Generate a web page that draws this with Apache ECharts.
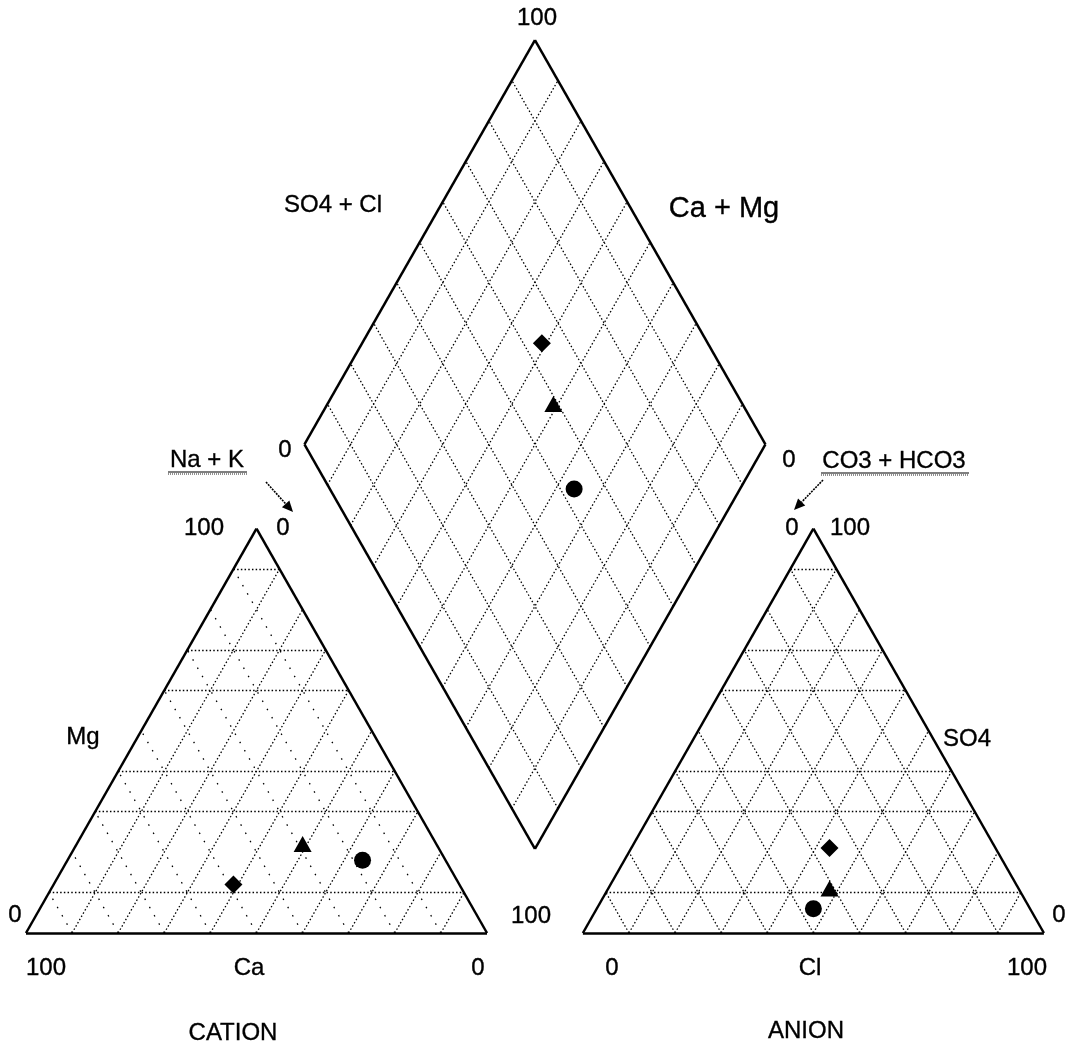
<!DOCTYPE html>
<html>
<head>
<meta charset="utf-8">
<script src="https://cdn.jsdelivr.net/npm/echarts@6/dist/echarts.min.js"></script>
<style>
  html, body { margin: 0; padding: 0; background: #ffffff; }
  #chart { width: 1066px; height: 1047px; }
</style>
</head>
<body>
<div id="chart"></div>
<script>
// Piper diagram: three water samples.
const sampleSymbols = ['diamond', 'triangle', 'circle'];

// Cation composition, % of meq
const caPct  = [49, 29, 18];
const mgPct  = [12, 22, 18];
const naKPct = [39, 49, 64];

// Anion composition, % of meq
const hco3Pct = [36, 41, 47];
const so4Pct  = [21, 11, 6];
const clPct   = [43, 48, 47];

// Grid steps (percent)
const gridSteps = [10, 20, 30, 40, 50, 60, 70, 80, 90];
const ruledLevels = [10, 30, 40, 60, 70, 90];

// Tick / axis captions
const cationBaseTicks = ['100', 'Ca', '0'];
const anionBaseTicks = ['0', 'Cl', '100'];

// Layout in diagram units: each triangle side is 100 units
const K = Math.sqrt(3) / 2;
const GAP = 20.8;
const RX = 100 + GAP;

function cationXY(ca, mg, na) { return [na + mg / 2, mg * K]; }
function anionXY(hco3, so4, cl) { return [RX + cl + so4 / 2, so4 * K]; }
function diamondXY(na, hco3) {
  const t = RX + 100 - hco3 - na;
  return [na + t / 2, t * K];
}

// Outlines
const outlines = [
  [cationXY(100, 0, 0), cationXY(0, 0, 100)],
  [cationXY(0, 0, 100), cationXY(0, 100, 0)],
  [cationXY(0, 100, 0), cationXY(100, 0, 0)],
  [anionXY(100, 0, 0), anionXY(0, 0, 100)],
  [anionXY(0, 0, 100), anionXY(0, 100, 0)],
  [anionXY(0, 100, 0), anionXY(100, 0, 0)],
  [diamondXY(100, 100), diamondXY(0, 100)],
  [diamondXY(0, 100), diamondXY(0, 0)],
  [diamondXY(0, 0), diamondXY(100, 0)],
  [diamondXY(100, 0), diamondXY(100, 100)]
];

// Grid lines
const denseGrid = [];
const sparseGrid = [];
ruledLevels.forEach(m => {
  denseGrid.push([cationXY(100 - m, m, 0), cationXY(0, m, 100 - m)]);
  denseGrid.push([anionXY(100 - m, m, 0), anionXY(0, m, 100 - m)]);
});
gridSteps.forEach(p => {
  // cation: constant Na+K and constant Ca
  denseGrid.push([cationXY(100 - p, 0, p), cationXY(0, 100 - p, p)]);
  sparseGrid.push([cationXY(p, 0, 100 - p), cationXY(p, 100 - p, 0)]);
  // anion: constant Cl and constant HCO3
  denseGrid.push([anionXY(100 - p, 0, p), anionXY(0, 100 - p, p)]);
  denseGrid.push([anionXY(p, 0, 100 - p), anionXY(p, 100 - p, 0)]);
  // diamond
  denseGrid.push([diamondXY(p, 100), diamondXY(p, 0)]);
  denseGrid.push([diamondXY(100, p), diamondXY(0, p)]);
});

const toLines = segs => segs.map(s => ({ coords: s }));

const cationPts = caPct.map((ca, i) => ({
  value: cationXY(ca, mgPct[i], naKPct[i]), symbol: sampleSymbols[i]
}));
const anionPts = hco3Pct.map((h, i) => ({
  value: anionXY(h, so4Pct[i], clPct[i]), symbol: sampleSymbols[i]
}));
const diamondPts = naKPct.map((na, i) => ({
  value: diamondXY(na, hco3Pct[i]), symbol: sampleSymbols[i]
}));

const markerSize = (v, p) => p.data.symbol === 'triangle' ? [18, 16] : (p.data.symbol === 'circle' ? 17 : 18);

const chart = echarts.init(document.getElementById('chart'), null, { renderer: 'canvas' });

const FONT = '"Liberation Sans", Arial, sans-serif';
function txt(text, x, y, size, extra) {
  return Object.assign({
    type: 'text', x: x, y: y, silent: true,
    style: { text: text, fill: '#000', stroke: '#000', lineWidth: 0.35,
             font: size + 'px ' + FONT, align: 'center', verticalAlign: 'middle' }
  }, extra || {});
}
function arrow(x1, y1, x2, y2) {
  const a = Math.atan2(y2 - y1, x2 - x1);
  const L = 11, W = 5;
  const bx = x2 - L * Math.cos(a), by = y2 - L * Math.sin(a);
  const nx = -Math.sin(a) * W, ny = Math.cos(a) * W;
  return [
    { type: 'line', silent: true, shape: { x1: x1, y1: y1, x2: bx, y2: by },
      style: { stroke: '#000', lineWidth: 1.6, lineDash: [2, 1] } },
    { type: 'polygon', silent: true,
      shape: { points: [[x2, y2], [bx + nx, by + ny], [bx - nx, by - ny]] },
      style: { fill: '#000' } }
  ];
}
function underline(x1, x2, y) {
  return [
    { type: 'line', silent: true, shape: { x1: x1, y1: y, x2: x2, y2: y }, style: { stroke: '#000', lineWidth: 1.2 } },
    { type: 'line', silent: true, shape: { x1: x1, y1: y + 2, x2: x2, y2: y + 2 }, style: { stroke: '#222', lineWidth: 1, lineDash: [1, 1] } }
  ];
}

const graphics = [
  txt('100', 537, 18, 24),
  txt('SO4 + Cl', 333, 205, 24),
  txt('Ca + Mg', 724, 209, 29),
  txt('0', 285, 450, 24),
  txt('0', 789, 460, 24),
  txt('Na + K', 207, 460, 24),
  txt('CO3 + HCO3', 894, 461, 24),
  txt('100', 204, 528, 24),
  txt('0', 283, 528, 24),
  txt('0', 792, 528, 24),
  txt('100', 850, 528, 24),
  txt('Mg', 83, 737, 24),
  txt('SO4', 967, 739, 24),
  txt('0', 15, 915, 24),
  txt('100', 531, 916, 24),
  txt('0', 1059, 915, 24),
  txt(cationBaseTicks[0], 46, 968, 24),
  txt(cationBaseTicks[1], 249, 968, 24),
  txt(cationBaseTicks[2], 478, 968, 24),
  txt(anionBaseTicks[0], 612, 968, 24),
  txt(anionBaseTicks[1], 810, 968, 24),
  txt(anionBaseTicks[2], 1027, 968, 24),
  txt('CATION', 233, 1033, 24),
  txt('ANION', 806, 1031, 24)
].concat(underline(168, 247, 472), underline(821, 969, 473),
         arrow(266, 482, 293, 512), arrow(823, 480, 794, 510));

chart.setOption({
  animation: false,
  backgroundColor: '#ffffff',
  grid: { left: 0, right: 0, top: 0, bottom: 0 },
  xAxis: { type: 'value', min: -26 / 4.61, max: 1040 / 4.61, show: false },
  yAxis: { type: 'value', min: -114 / 4.67, max: 933 / 4.67, show: false },
  series: [
    { type: 'lines', coordinateSystem: 'cartesian2d', silent: true, z: 1,
      data: toLines(denseGrid),
      lineStyle: { color: '#000', width: 1.3, type: [1.5, 2.2], opacity: 1 } },
    { type: 'lines', coordinateSystem: 'cartesian2d', silent: true, z: 1,
      data: toLines(sparseGrid),
      lineStyle: { color: '#000', width: 1.3, type: [1.5, 8], opacity: 1 } },
    { type: 'lines', coordinateSystem: 'cartesian2d', silent: true, z: 2,
      data: toLines(outlines),
      lineStyle: { color: '#000', width: 2.5, type: 'solid', opacity: 1 } },
    { type: 'scatter', name: 'cation', z: 5, data: cationPts, symbolSize: markerSize,
      itemStyle: { color: '#000', opacity: 1 } },
    { type: 'scatter', name: 'anion', z: 5, data: anionPts, symbolSize: markerSize,
      itemStyle: { color: '#000', opacity: 1 } },
    { type: 'scatter', name: 'diamond', z: 5, data: diamondPts, symbolSize: markerSize,
      itemStyle: { color: '#000', opacity: 1 } }
  ],
  graphic: graphics
});
</script>
</body>
</html>
